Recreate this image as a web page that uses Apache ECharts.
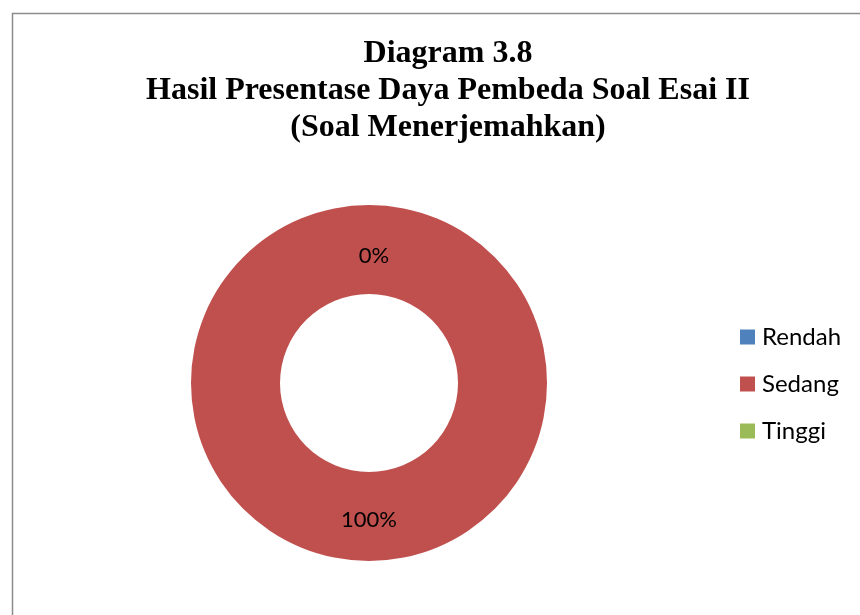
<!DOCTYPE html>
<html>
<head>
<meta charset="utf-8">
<script src="https://cdn.jsdelivr.net/npm/echarts@6/dist/echarts.min.js"></script>
<style>
  html, body { margin: 0; padding: 0; background: #fff; }
  #main { width: 860px; height: 615px; }
</style>
</head>
<body>
<div id="main"></div>
<script>
var categories = ['Rendah', 'Sedang', 'Tinggi'];
var values = [0, 100, 0];
var colors = ['#4F81BD', '#C0504D', '#9BBB59'];

var pieData = [];
for (var i = 0; i < categories.length; i++) {
    var item = {name: categories[i], value: values[i]};
    // excel puts the empty-slice label a bit lower/right
    if (values[i] === 0) {
        item.label = {offset: [5, 9]};
    }
    pieData.push(item);
}

var option = {
    animation: false,
    color: colors,
    title: {
        text: 'Diagram 3.8\nHasil Presentase Daya Pembeda Soal Esai II\n(Soal Menerjemahkan)',
        left: 443,
        top: 30,
        textAlign: 'center',
        textStyle: {
            fontFamily: 'Liberation Serif',
            fontWeight: 'bold',
            fontSize: 32,
            lineHeight: 37,
            color: '#000'
        }
    },
    legend: {
        orient: 'vertical',
        left: 735,
        top: 320,
        icon: 'rect',
        itemWidth: 15,
        itemHeight: 15,
        itemGap: 23,
        data: categories,
        textStyle: {
            fontFamily: 'Lato',
            fontSize: 24,
            lineHeight: 24,
            color: '#000',
            padding: [0, 0, 0, 2]
        }
    },
    graphic: [{
        type: 'rect',
        shape: {x: 12.5, y: 13.5, width: 900, height: 700},
        style: {fill: null, stroke: '#8c8c8c', lineWidth: 1.5},
        silent: true
    }],
    series: [
        {
            name: 'Daya Pembeda',
            type: 'pie',
            center: [369, 383],
            radius: [89, 178],
            startAngle: 90,
            avoidLabelOverlap: false,
            data: pieData,
            label: {
                show: true,
                position: 'inside',
                formatter: '{d}%',
                fontFamily: 'Lato',
                fontSize: 22,
                color: '#000'
            },
            labelLine: {show: false},
            itemStyle: {borderWidth: 0}
        }
    ]
};

var chart = echarts.init(document.getElementById('main'));
chart.setOption(option);
</script>
</body>
</html>
